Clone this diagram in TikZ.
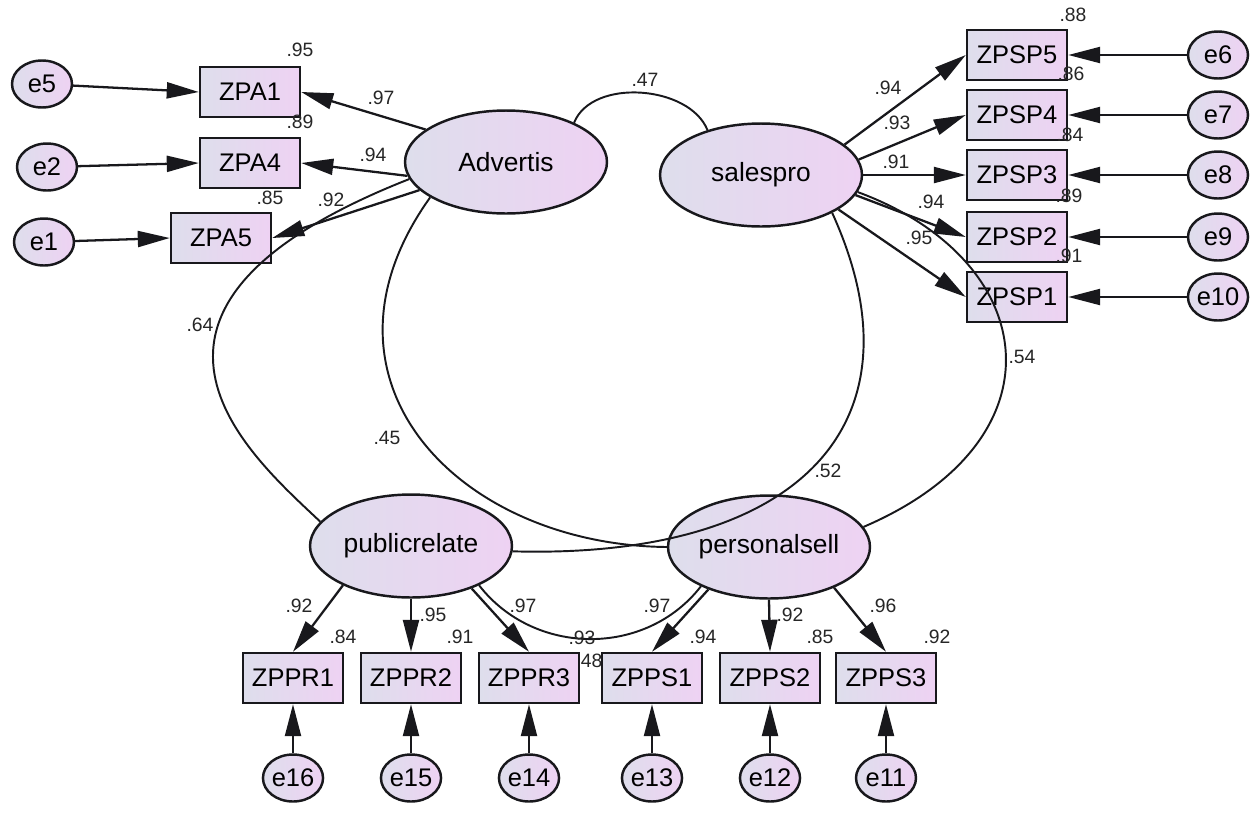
\documentclass[tikz,border=0pt]{standalone}
\usepackage{fontspec}
\setmainfont{Liberation Sans}
\usetikzlibrary{positioning,arrows.meta,shapes.geometric}

\definecolor{semleft}{RGB}{222,222,236}
\definecolor{semright}{RGB}{238,210,243}
\definecolor{semline}{RGB}{24,24,28}

\begin{document}
\begin{tikzpicture}[
    x=0.02cm, y=-0.02cm,
    latent/.style={
        ellipse,
        draw=semline,
        line width=1.4pt,
        left color=semleft,
        right color=semright,
        minimum width=4.04cm,
        minimum height=2.06cm,
        inner sep=0pt,
        font=\fontsize{15}{18}\selectfont
    },
    observed/.style={
        rectangle,
        draw=semline,
        line width=1.4pt,
        left color=semleft,
        right color=semright,
        minimum width=2cm,
        minimum height=1cm,
        inner sep=0pt,
        font=\fontsize{14.5}{17}\selectfont
    },
    errvar/.style={
        ellipse,
        draw=semline,
        line width=1.4pt,
        left color=semleft,
        right color=semright,
        minimum width=1.2cm,
        minimum height=0.94cm,
        inner sep=0pt,
        font=\fontsize{14.5}{17}\selectfont
    },
    coef/.style={
        font=\fontsize{11}{13}\selectfont,
        text=black!85,
        inner sep=1pt
    },
    regarrow/.style={
        -{Triangle[length=6.4mm,width=3.2mm]},
        line width=1.3pt,
        draw=semline
    },
    covline/.style={
        line width=1.1pt,
        draw=semline
    }
]

\useasboundingbox (0,0) rectangle (1257,812);

% Covariance label that sits partly under ZPPS1
\node[coef] (cov48) at (589,661) {.48};

% Latent factors
\node[latent] (advertis) at (506,162) {Advertis};
\node[latent] (salespro) at (761,175) {salespro};
\node[latent] (publicrelate) at (411,546) {publicrelate};
\node[latent] (personalsell) at (769,547) {personalsell};

% Advertis indicators and errors
\node[observed] (zpa1) at (250,92) {ZPA1};
\node[observed] (zpa4) at (250,163) {ZPA4};
\node[observed] (zpa5) at (221,238) {ZPA5};
\node[errvar] (e5) at (42,84) {e5};
\node[errvar] (e2) at (47,167) {e2};
\node[errvar] (e1) at (44,242) {e1};

% salespro indicators and errors
\node[observed] (zpsp5) at (1017,55) {ZPSP5};
\node[observed] (zpsp4) at (1017,115) {ZPSP4};
\node[observed] (zpsp3) at (1017,175) {ZPSP3};
\node[observed] (zpsp2) at (1017,237) {ZPSP2};
\node[observed] (zpsp1) at (1017,297) {ZPSP1};
\node[errvar] (e6) at (1218,55) {e6};
\node[errvar] (e7) at (1218,115) {e7};
\node[errvar] (e8) at (1218,175) {e8};
\node[errvar] (e9) at (1218,237) {e9};
\node[errvar] (e10) at (1218,297) {e10};

% publicrelate / personalsell indicators and errors
\node[observed] (zppr1) at (293,678) {ZPPR1};
\node[observed] (zppr2) at (411,678) {ZPPR2};
\node[observed] (zppr3) at (529,678) {ZPPR3};
\node[observed] (zpps1) at (652,678) {ZPPS1};
\node[observed] (zpps2) at (770,678) {ZPPS2};
\node[observed] (zpps3) at (886,678) {ZPPS3};
\node[errvar] (e16) at (293,778) {e16};
\node[errvar] (e15) at (411,778) {e15};
\node[errvar] (e14) at (529,778) {e14};
\node[errvar] (e13) at (652,778) {e13};
\node[errvar] (e12) at (770,778) {e12};
\node[errvar] (e11) at (886,778) {e11};

% Loadings
\draw[regarrow] (advertis.158) -- (zpa1.east);
\draw[regarrow] (advertis.188) -- (zpa4.east);
\draw[regarrow] (advertis.198) -- (zpa5.east);
\draw[regarrow] (salespro.20) -- (zpsp5.west);
\draw[regarrow] (salespro.9) -- (zpsp4.west);
\draw[regarrow] (salespro.0) -- (zpsp3.west);
\draw[regarrow] (salespro.348) -- (zpsp2.west);
\draw[regarrow] (salespro.336) -- (zpsp1.west);
\draw[regarrow] (publicrelate.210) -- (zppr1.north);
\draw[regarrow] (publicrelate.270) -- (zppr2.north);
\draw[regarrow] (publicrelate.325) -- (zppr3.north);
\draw[regarrow] (personalsell.215) -- (zpps1.north);
\draw[regarrow] (personalsell.270) -- (zpps2.north);
\draw[regarrow] (personalsell.328) -- (zpps3.north);

% Error terms
\draw[regarrow] (e5) -- (zpa1.west);
\draw[regarrow] (e2) -- (zpa4.west);
\draw[regarrow] (e1) -- (zpa5.west);
\foreach \err/\ind in {e6/zpsp5,e7/zpsp4,e8/zpsp3,e9/zpsp2,e10/zpsp1}
    \draw[regarrow] (\err) -- (\ind.east);
\foreach \err/\ind in {e16/zppr1,e15/zppr2,e14/zppr3,e13/zpps1,e12/zpps2,e11/zpps3}
    \draw[regarrow] (\err) -- (\ind.south);

% Covariances between factors
\draw[covline] (advertis.30) .. controls +(18,-45) and +(-18,-45) .. (salespro.140);
\draw[covline] (advertis.190) .. controls +(-330,130) and +(-71,-67) .. (publicrelate.165);
\draw[covline] (advertis.205) .. controls +(-131,183) and +(-208,-2) .. (personalsell.180);
\draw[covline] (salespro.332) .. controls +(96,211) and +(287,8) .. (publicrelate.357);
\draw[covline] (salespro.350) .. controls +(184,68) and +(203,-87) .. (personalsell.12);
\draw[covline] (publicrelate.330) .. controls +(55,71) and +(-55,71) .. (personalsell.210);

% Coefficients: Advertis
\node[coef] (ld97a) at (381,98) {.97};
\node[coef] (ld94a) at (373,155) {.94};
\node[coef] (ld92a) at (331,200) {.92};
\node[coef] (sq95a) at (300,50) {.95};
\node[coef] (sq89a) at (300,122) {.89};
\node[coef] (sq85a) at (270,198) {.85};

% Coefficients: salespro
\node[coef] (ld94b) at (888,88) {.94};
\node[coef] (ld93b) at (897,123) {.93};
\node[coef] (ld91b) at (896,162) {.91};
\node[coef] (ld94c) at (931,202) {.94};
\node[coef] (ld95b) at (919,238) {.95};
\node[coef] (sq88b) at (1073,15) {.88};
\node[coef] (sq86b) at (1071,74) {.86};
\node[coef] (sq84b) at (1070,135) {.84};
\node[coef] (sq89b) at (1069,196) {.89};
\node[coef] (sq91b) at (1069,256) {.91};

% Coefficients: publicrelate / personalsell
\node[coef] (ld92c) at (299,606) {.92};
\node[coef] (ld95c) at (433,615) {.95};
\node[coef] (ld97c) at (523,606) {.97};
\node[coef] (ld97d) at (657,606) {.97};
\node[coef] (ld92d) at (790,615) {.92};
\node[coef] (ld96d) at (883,606) {.96};
\node[coef] (sq84c) at (343,637) {.84};
\node[coef] (sq91c) at (460,637) {.91};
\node[coef] (sq93c) at (582,638) {.93};
\node[coef] (sq94d) at (703,637) {.94};
\node[coef] (sq85d) at (820,637) {.85};
\node[coef] (sq92d) at (937,637) {.92};

% Coefficients: covariances
\node[coef] (cov47) at (645,80) {.47};
\node[coef] (cov64) at (200,325) {.64};
\node[coef] (cov45) at (387,438) {.45};
\node[coef] (cov52) at (828,471) {.52};
\node[coef] (cov54) at (1022,357) {.54};

\end{tikzpicture}
\end{document}
